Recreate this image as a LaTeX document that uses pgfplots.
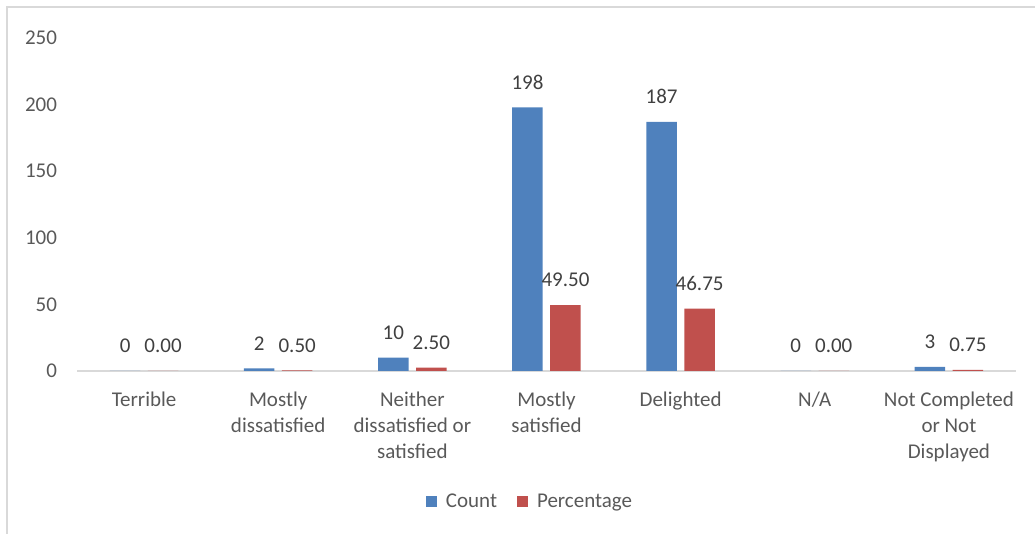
\documentclass[border=0pt]{standalone}
\usepackage{fontspec}
\setmainfont{Carlito}
\usepackage{pgfplots}
\pgfplotsset{compat=1.18}
\definecolor{cntblue}{HTML}{4F81BD}
\definecolor{pctred}{HTML}{C0504D}
\definecolor{txtgray}{HTML}{595959}
\definecolor{lblgray}{HTML}{404040}
\definecolor{framegray}{HTML}{D9D9D9}
\newcommand{\chartfont}{\fontsize{10.5}{13}\selectfont}

\begin{document}
\begin{tikzpicture}[x=0.5pt,y=0.5pt]
\useasboundingbox (0,0) rectangle (1035,534);
% chart area border
\draw[framegray, line width=0.75pt] (7,0) -- (7,527) -- (1035,527);
\begin{axis}[
  at={(38.5pt,81.5pt)}, anchor=south west,
  scale only axis, width=469.5pt, height=166.5pt,
  xmin=-0.5, xmax=6.5, ymin=0, ymax=250,
  axis x line*=bottom, axis y line*=left,
  y axis line style={draw=none},
  x axis line style={-, draw=framegray, line width=0.8pt},
  major tick length=0pt,
  ytick={0,50,...,250},
  xtick={0,...,6},
  xticklabels={Terrible,{Mostly\\dissatisfied},{Neither\\dissatisfied or\\satisfied},{Mostly\\satisfied},Delighted,N/A,{Not Completed\\or Not\\Displayed}},
  x tick label style={align=center, font=\chartfont, text=txtgray, yshift=-7pt},
  y tick label style={font=\chartfont, text=txtgray, xshift=-6.5pt},
  /pgf/number format/assume math mode=true,
  ybar=3.75pt, bar width=15.25pt,
  nodes near coords,
  nodes near coords style={font=\chartfont, text=lblgray, anchor=south, yshift=5.5pt},
  legend style={at={(0.4835,-0.393)}, anchor=center, legend columns=2, draw=none, fill=none,
    font=\chartfont, text=txtgray,
    /tikz/every odd column/.append style={column sep=2.5pt},
    /tikz/every even column/.append style={column sep=8pt}},
  legend image code/.code={\fill[#1] (0pt,-2.75pt) rectangle (5.5pt,2.75pt);},
]
\addplot[fill=cntblue, draw=none] coordinates {(0,0) (1,2) (2,10) (3,198) (4,187) (5,0) (6,3)};
\addplot[fill=pctred, draw=none,
  nodes near coords style={/pgf/number format/.cd, fixed, fixed zerofill, precision=2}]
  coordinates {(0,0) (1,0.5) (2,2.5) (3,49.5) (4,46.75) (5,0) (6,0.75)};
\legend{Count,Percentage}
\end{axis}
\end{tikzpicture}
\end{document}
